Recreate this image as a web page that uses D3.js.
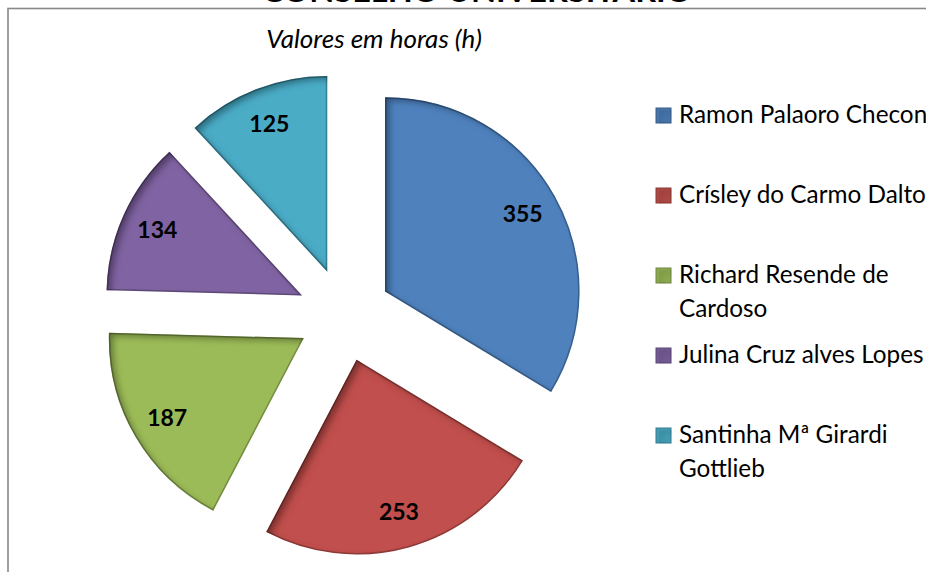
<!DOCTYPE html>
<html lang="pt">
<head>
<meta charset="UTF-8">
<title>Conselho Universitário</title>
<script src="https://d3js.org/d3.v7.min.js"></script>
<style>
    body { margin: 0; background: #fff; font-family: Lato, "Open Sans", sans-serif; }
    svg { display: block; }
</style>
</head>
<body>
<div id="chart"></div>
<script>
    // chart data
    const names = [
        "Ramon Palaoro Checon",
        "Crísley do Carmo Dalto",
        "Richard Resende de Cardoso",
        "Julina Cruz alves Lopes",
        "Santinha Mª Girardi Gottlieb"
    ];
    const hours = [355, 253, 187, 134, 125];
    const colors = ["#4F81BD", "#C0504D", "#9BBB59", "#8064A2", "#4BACC6"];
    const title = "CONSELHO UNIVERSITÁRIO";
    const subtitle = "Valores em horas (h)";

    const W = 926, H = 572;
    const cx = 344, cy = 314.5, radius = 193, explode = 48;

    const svg = d3.select("#chart").append("svg")
        .attr("width", W).attr("height", H);

    // inner shadow like the Excel bevel
    const defs = svg.append("defs");
    const f = defs.append("filter").attr("id", "inner")
        .attr("x", "-10%").attr("y", "-10%").attr("width", "120%").attr("height", "120%");
    f.append("feComponentTransfer").attr("in", "SourceAlpha")
        .append("feFuncA").attr("type", "table").attr("tableValues", "1 0");
    f.append("feGaussianBlur").attr("stdDeviation", 3);
    f.append("feOffset").attr("dx", 5).attr("dy", 4).attr("result", "offsetblur");
    f.append("feFlood").attr("flood-color", "#000").attr("flood-opacity", 0.6);
    f.append("feComposite").attr("in2", "offsetblur").attr("operator", "in");
    f.append("feComposite").attr("in2", "SourceAlpha").attr("operator", "in");
    const m = f.append("feMerge");
    m.append("feMergeNode").attr("in", "SourceGraphic");
    m.append("feMergeNode");

    // frame
    svg.append("rect")
        .attr("x", 8).attr("y", 8.5)
        .attr("width", W + 20).attr("height", H + 20)
        .attr("fill", "#fff").attr("stroke", "#888").attr("stroke-width", 1.6);

    // title (cut off at top in the reference)
    svg.append("text")
        .attr("x", 477).attr("y", 1.5)
        .attr("text-anchor", "middle")
        .attr("textLength", 430).attr("lengthAdjust", "spacingAndGlyphs")
        .style("font-weight", "bold").style("font-size", "28px")
        .text(title);

    svg.append("text")
        .attr("x", 374).attr("y", 48)
        .attr("text-anchor", "middle")
        .style("font-style", "italic").style("font-size", "26px")
        .text(subtitle);

    const pie = d3.pie().sort(null).value(d => d);
    const arcs = pie(hours);
    const arc = d3.arc().innerRadius(0).outerRadius(radius);
    const labelArc = d3.arc().innerRadius(157).outerRadius(157);

    const color = d3.scaleOrdinal().domain(names).range(colors);

    const slices = svg.append("g")
        .attr("transform", `translate(${cx},${cy})`)
        .selectAll("g")
        .data(arcs)
        .join("g")
        .attr("transform", d => {
            const a = (d.startAngle + d.endAngle) / 2;
            return `translate(${explode * Math.sin(a)},${-explode * Math.cos(a)})`;
        });

    slices.append("path")
        .attr("d", arc)
        .attr("fill", (d, i) => color(names[i]))
        .attr("stroke", (d, i) => d3.color(color(names[i])).darker(0.8))
        .attr("stroke-width", 1.5)
        .attr("filter", "url(#inner)");

    slices.append("text")
        .attr("transform", d => `translate(${labelArc.centroid(d)})`)
        .attr("text-anchor", "middle")
        .attr("dy", "0.35em")
        .style("font-weight", "bold").style("font-size", "23px")
        .text(d => d.data);

    // legend
    const rowY = d3.scalePoint().domain(names).range([123, 443]);
    const legend = svg.append("g").selectAll("g")
        .data(names)
        .join("g")
        .attr("transform", d => `translate(656,${rowY(d)})`);

    legend.append("rect")
        .attr("x", 0).attr("y", -15)
        .attr("width", 15).attr("height", 15)
        .attr("fill", d => d3.color(color(d)).darker(0.3))
        .attr("stroke", d => d3.color(color(d)).darker(0.9))
        .attr("stroke-width", 1)
        .attr("filter", "url(#inner)");

    const maxW = 270;
    legend.append("text")
        .attr("x", 23)
        .style("font-size", "24.3px")
        .each(function(d) {
            const t = d3.select(this);
            const words = d.split(" ");
            let line = [], lineNo = 0;
            let tspan = t.append("tspan").attr("x", 23).attr("y", 0);
            words.forEach(w => {
                line.push(w);
                tspan.text(line.join(" "));
                if (tspan.node().getComputedTextLength() > maxW && line.length > 1) {
                    line.pop();
                    tspan.text(line.join(" "));
                    line = [w];
                    lineNo++;
                    tspan = t.append("tspan").attr("x", 23).attr("y", lineNo * 33.5).text(w);
                }
            });
        });
</script>
</body>
</html>
